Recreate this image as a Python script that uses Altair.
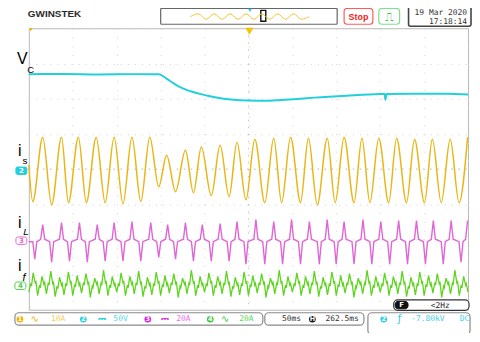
import altair as alt
import pandas as pd

# ---------------- data ----------------
# time base: 50 ms/div, 10 divisions -> 0..500 ms
# CH2  Vc  (50 V/div)
vc_t = [0, 40, 80, 120, 148, 156, 163, 170, 178, 186, 195, 205, 215, 230, 249, 269, 287,
        306, 325, 362, 400, 405, 406, 407, 438, 475, 500]
vc_v = [137.5, 137.8, 137.2, 137.6, 137.4, 132, 126, 120.5, 116, 112.5, 109.5, 106.5, 104,
        101.5, 100, 99.8, 101, 102.4, 104.2, 107, 109.2, 109.3, 101, 109.3, 109.6, 109.6,
        108.8]

# CH1  i_s (10 A/div) : peaks and troughs of every cycle
is_start = 1.7
is_peak_t = [15.8, 37.2, 56.4, 76.7, 97.1, 117.4, 137.7, 156.9, 178.3, 196.4, 217.8, 237.0,
             257.3, 278.8, 298.0, 318.3, 339.7, 358.9, 379.2, 398.4, 418.7, 439.1, 459.4,
             479.7, 499.5]
is_peak_a = [9.6, 9.6, 9.6, 9.6, 9.6, 9.6, 9.6, 4.5, 5.9, 6.8, 7.3, 8.2, 9.0, 9.3, 9.6, 9.3,
             9.3, 9.6, 9.3, 9.3, 9.3, 9.0, 9.0, 9.0, 9.6]
is_trough_t = [4.5, 26.0, 45.1, 65.5, 86.9, 107.2, 127.5, 147.9, 167.0, 187.4, 207.7, 228.0,
               247.2, 268.6, 287.8, 309.3, 328.4, 348.8, 370.2, 388.3, 409.7, 430.0, 450.4,
               469.5, 489.8]
is_trough_a = [-8.7, -9.6, -9.0, -9.0, -9.0, -9.3, -8.7, -4.5, -5.9, -6.2, -7.0, -7.3, -8.2,
               -9.0, -9.0, -9.0, -9.6, -9.0, -9.0, -9.0, -9.0, -9.0, -9.0, -9.0, -9.0]

# CH3  i_L (20 A/div) : spike tips
il_pos_t = [15.8, 37.2, 57.6, 77.9, 97.1, 117.4, 138.8, 158.0, 178.3, 197.5, 217.8, 237.0,
            258.5, 278.8, 299.1, 319.4, 339.7, 358.9, 380.4, 400.7, 421.0, 441.3, 460.5,
            480.8, 499.5]
il_pos_a = [9.0, 10.1, 10.1, 9.0, 10.1, 10.7, 10.1, 9.0, 10.1, 9.0, 9.6, 10.7, 11.8, 10.7,
            11.8, 10.7, 11.8, 10.7, 11.8, 10.7, 11.3, 11.3, 11.3, 11.3, 11.3]
il_neg_t = [6.8, 26.0, 46.3, 66.6, 86.9, 107.2, 127.5, 147.9, 167.0, 187.4, 207.7, 228.0,
            247.2, 268.6, 288.9, 309.3, 330.7, 349.9, 370.2, 390.5, 410.8, 431.1, 451.5,
            471.8, 492.0]
il_neg_a = [-10.7, -12.4, -11.8, -12.4, -11.8, -11.8, -11.8, -9.6, -10.7, -11.8, -11.8,
            -11.8, -13.5, -13.5, -13.5, -13.5, -13.5, -13.5, -13.5, -13.5, -13.5, -13.5,
            -13.5, -13.5, -12.4]
il_shoulder = 0.7

# CH4  i_f (20 A/div) : local extremes over one 100 ms stretch (the trace repeats)
if_t = [0, 2.2, 3.0, 5.0, 7.2, 8.0, 10.0, 12.2, 13.0, 15.0, 17.2, 18.0, 20.0, 22.2, 23.0,
        25.0, 27.2, 28.0, 30.0, 32.2, 33.0, 35.0, 37.2, 38.0, 40.0, 42.2, 43.0, 45.0, 47.2,
        48.0, 50.0, 52.2, 53.0, 55.0, 57.2, 58.0, 60.0, 62.2, 63.0, 65.0, 67.2, 68.0, 70.0,
        72.2, 73.0, 75.0, 77.2, 78.0, 80.0, 82.2, 83.0, 85.0, 87.2, 88.0, 90.0, 92.2, 93.0,
        95.0, 97.2, 98.0]
if_a = [-4, 1, -0.5, 7, 1.5, 2.5, -6, 0, -1.5, 5, 0.5, 1.5, -5, 1.5, 0, 8, 1, 2, -6.5,
        -0.5, -2, 4.5, 0, 1, -5.5, 1, -0.5, 7.5, 1.5, 2.5, -6, 0.5, -1, 5.5, 0, 1, -4.5, 1.5,
        0, 6.5, 1, 2, -7, -0.5, -1.5, 4, 0.5, 1.5, -5, 1, 0, 8.5, 1.5, 2.5, -6, 0, -1.5, 5,
        0, 1]

# preview (record-length thumbnail) wave
preview_v = [0, 1, -1, 1, -1, 1, -1, 1, -1, 1, -1, 1, -1, 1, -1, 0]

# channel settings: units per division, ground-marker position (div)
SCALE = {"is": 10, "vc": 50, "il": 20, "if": 20}
OFFSET = {"is": -0.056, "vc": -0.056, "il": -2.03, "if": -3.30}

COL = {"is": "#e9b616", "vc": "#22d0dc", "il": "#e066d6", "if": "#5fd420"}

# ---------------- build tables ----------------
def frame(pairs, ch):
    pairs = sorted(pairs)
    df = pd.DataFrame(pairs, columns=["t", "v"])
    df["d"] = df["v"] / SCALE[ch] + OFFSET[ch]
    return df

df_vc = frame(list(zip(vc_t, vc_v)), "vc")
df_is = frame([(0.0, is_start)] + list(zip(is_peak_t, is_peak_a)) +
              list(zip(is_trough_t, is_trough_a)), "is")
il_pts = [(0.0, -il_shoulder)]
for t, a in zip(il_pos_t, il_pos_a):
    il_pts += [(t - 2.3, il_shoulder), (t, a), (t + 2.3, il_shoulder)]
for t, a in zip(il_neg_t, il_neg_a):
    il_pts += [(t - 2.3, -il_shoulder), (t, a), (t + 2.3, -il_shoulder)]
il_pts = [p for p in il_pts if 0 <= p[0] <= 500]
df_il = frame(il_pts, "il")
if_pts = []
for k in range(5):
    if_pts += [(t + 100 * k, a) for t, a in zip(if_t, if_a)]
if_pts.append((500.0, if_a[0]))
df_if = frame(if_pts, "if")

# ---------------- chart ----------------
X0, Y0 = 29, 27          # plot origin on the page
W, H = 443, 284

xs = alt.Scale(domain=[0, 500], nice=False, zero=False)
ys = alt.Scale(domain=[-4, 4], nice=False, zero=False)
xaxis = alt.Axis(values=list(range(0, 501, 50)), grid=True, gridColor="#cfcfcf",
                 gridDash=[1, 7.86], labels=False, ticks=False, domain=False, title=None)
yaxis = alt.Axis(values=list(range(-4, 5)), grid=True, gridColor="#cfcfcf",
                 gridDash=[1, 6.1], labels=False, ticks=False, domain=False, title=None)


def trace(df, ch, interp, sw=1.5):
    return alt.Chart(df).mark_line(color=COL[ch], strokeWidth=sw, interpolate=interp).encode(
        x=alt.X("t:Q", scale=xs, axis=xaxis), y=alt.Y("d:Q", scale=ys, axis=yaxis))


one = pd.DataFrame({"a": [0]})


def txt(s, x, y, color="#000", size=8, font="DejaVu Sans Mono", align="left",
        weight="normal", style="normal", baseline="alphabetic"):
    return alt.Chart(one).mark_text(text=s, color=color, fontSize=size, font=font,
                                    align=align, fontWeight=weight, fontStyle=style,
                                    baseline=baseline).encode(
        x=alt.value(x - X0), y=alt.value(y - Y0))


def box(x0, y0, x1, y1, stroke, fill="white", r=3, sw=1.0):
    return alt.Chart(one).mark_rect(stroke=stroke, fill=fill, cornerRadius=r,
                                    strokeWidth=sw).encode(
        x=alt.value(x0 - X0), x2=alt.value(x1 - X0), y=alt.value(y0 - Y0),
        y2=alt.value(y1 - Y0))


def dot(x, y, color, size=40, shape="circle", filled=True):
    return alt.Chart(one).mark_point(shape=shape, filled=filled, color=color, size=size,
                                     opacity=1).encode(
        x=alt.value(x - X0), y=alt.value(y - Y0))


layers = []
# center cross (denser dots)
layers.append(alt.Chart(one).mark_rule(color="#c4c4c4", strokeDash=[1.5, 5.6]).encode(
    x=alt.value(W / 2), y=alt.value(0), y2=alt.value(H)))
layers.append(alt.Chart(one).mark_rule(color="#c4c4c4", strokeDash=[1.5, 5.6]).encode(
    y=alt.value(H / 2), x=alt.value(0), x2=alt.value(W)))

layers += [trace(df_is, "is", "monotone", 1.5), trace(df_vc, "vc", "monotone", 2.0),
           trace(df_il, "il", "linear", 1.4), trace(df_if, "if", "linear", 1.3)]

# header
layers += [
    txt("GWINSTEK", 28, 16, "#2b2b2b", 10, "Liberation Sans", weight="bold"),
    box(162, 7, 340, 23, "#666666", r=1, sw=1.2),
    box(263, 9, 268, 20, "#111111", fill="white", r=0, sw=1.4),
    dot(252, 9, "#22c8e0", 14, "triangle-down"),
    box(347, 7, 376, 23, "#ff5b5b", r=3, sw=1.2),
    txt("Stop", 361.5, 18.5, "#ee2222", 9, "Liberation Sans", align="center", weight="bold"),
    box(382, 7, 403, 23, "#7fe08a", r=3, sw=1.2),
    txt("⎍", 392.5, 19.5, "#39c84b", 12, "DejaVu Sans", align="center"),
    box(412, 4, 475, 25, "#444444", r=2, sw=1.6),
    txt("19 Mar 2020", 471, 13.5, "#333333", 8, align="right"),
    txt("17:18:14", 471, 22.5, "#333333", 8, align="right"),
    dot(31, 28.5, "#f0b400", 14, "triangle-down"),
    dot(251.5, 29.5, "#f0c000", 22, "triangle-down", filled=False),
]

# signal labels
layers += [
    txt("V", 17, 63, "#000", 16, "Liberation Sans"),
    txt("C", 27.5, 72, "#000", 9.5, "Liberation Sans"),
    txt("i", 18, 156, "#000", 16, "Liberation Sans"),
    txt("s", 22.5, 163.5, "#000", 10, "Liberation Sans"),
    txt("i", 18, 228, "#000", 16, "Liberation Sans"),
    txt("L", 23.5, 235.5, "#000", 10, "Liberation Sans", style="italic"),
    txt("i", 18, 272, "#000", 16, "Liberation Sans"),
    txt("f", 22.5, 282, "#000", 11, "Liberation Sans", style="italic"),
]

# channel ground markers
layers += [
    box(16, 167, 27, 174.5, COL["vc"], fill=COL["vc"], r=1.5),
    txt("2", 21.5, 171, "white", 7, "DejaVu Sans", align="center", weight="bold",
        baseline="middle"),
    box(16, 237.5, 27, 245, COL["il"], fill="white", r=2),
    txt("3", 21.5, 241.5, COL["il"], 7, "DejaVu Sans", align="center", weight="bold",
        baseline="middle"),
    box(15, 283, 26, 290.5, "#4fd04a", fill="white", r=2),
    txt("4", 20.5, 287, "#4fd04a", 7, "DejaVu Sans", align="center", weight="bold",
        baseline="middle"),
]

# status bar
sy = 320.5
layers += [
    box(397, 301, 473, 311.5, "#333333", r=4, sw=1.2),
    box(398.5, 302.5, 411.5, 310, "#111111", fill="#111111", r=3),
    txt("F", 405, 306.5, "white", 7, "DejaVu Sans", align="center", weight="bold",
        baseline="middle"),
    txt("<2Hz", 444, 306.8, "#222222", 8, align="center", baseline="middle"),
    box(15, 314, 265, 326.5, "#8a8a8a", r=4, sw=1.2),
    box(267, 314, 367, 326.5, "#8a8a8a", r=4, sw=1.2),
    box(371, 314, 474, 336, "#8a8a8a", r=4, sw=1.2),
    dot(20, sy, "#f0b400", 45), txt("1", 20, sy, "white", 6.5, "DejaVu Sans", align="center",
                                   weight="bold", baseline="middle"),
    txt("∿", 35, sy, "#f0b400", 10, "DejaVu Sans", align="center", baseline="middle"),
    txt("10A", 58.5, sy, "#f5cd55", 8, align="center", baseline="middle"),
    dot(84, sy, "#28d0e0", 45), txt("2", 84, sy, "white", 6.5, "DejaVu Sans", align="center",
                                   weight="bold", baseline="middle"),
    txt("⎓", 102.5, sy, "#28d0e0", 10, "DejaVu Sans", align="center", baseline="middle"),
    txt("50V", 121.5, sy, "#55d6e6", 8, align="center", baseline="middle"),
    dot(149, sy, "#e020e0", 45), txt("3", 149, sy, "white", 6.5, "DejaVu Sans", align="center",
                                    weight="bold", baseline="middle"),
    txt("⎓", 166.5, sy, "#e040e0", 10, "DejaVu Sans", align="center", baseline="middle"),
    txt("20A", 185, sy, "#ef6aef", 8, align="center", baseline="middle"),
    dot(212, sy, "#3cc83c", 45), txt("4", 212, sy, "white", 6.5, "DejaVu Sans", align="center",
                                    weight="bold", baseline="middle"),
    txt("∿", 227, sy, "#3cc83c", 10, "DejaVu Sans", align="center", baseline="middle"),
    txt("20A", 248.5, sy, "#5ad85a", 8, align="center", baseline="middle"),
    txt("50ms", 294, sy, "#333333", 8, align="center", baseline="middle"),
    dot(315, sy, "#111111", 45), txt("H", 315, sy, "white", 6.5, "DejaVu Sans", align="center",
                                    weight="bold", baseline="middle"),
    txt("262.5ms", 345, sy, "#333333", 8, align="center", baseline="middle"),
    dot(387, sy, "#28d0e0", 45), txt("2", 387, sy, "white", 6.5, "DejaVu Sans", align="center",
                                    weight="bold", baseline="middle"),
    txt("ƒ", 403, sy, "#28c8e0", 10, "DejaVu Sans", align="center", baseline="middle"),
    txt("-7.80kV", 431.5, sy, "#3ccfe2", 8, align="center", baseline="middle"),
    txt("DC", 468.5, sy, "#3ccfe2", 8, align="center", baseline="middle"),
]

main = alt.layer(*layers)

df_prev = pd.DataFrame({"k": list(range(len(preview_v))), "v": preview_v})
preview = alt.Chart(df_prev).mark_line(color="#f2c230", strokeWidth=1,
                                       interpolate="monotone").encode(
    x=alt.X("k:Q", scale=alt.Scale(domain=[0, len(preview_v) - 1], range=[192 - X0, 312 - X0],
                                   nice=False, zero=False), axis=None),
    y=alt.Y("v:Q", scale=alt.Scale(domain=[-1, 1], range=[18 - Y0, 12.5 - Y0], nice=False,
                                   zero=False), axis=None))

chart = alt.layer(main, preview).resolve_scale(x="independent", y="independent").properties(
    width=W, height=H,
    padding={"left": 21, "top": 19, "right": 4, "bottom": 22},
    autosize=alt.AutoSizeParams(type="none"),
    background="white",
).configure_view(stroke="#b8b8b8", strokeWidth=1)

chart.save("out.html", embed_options={"renderer": "svg", "actions": False})
